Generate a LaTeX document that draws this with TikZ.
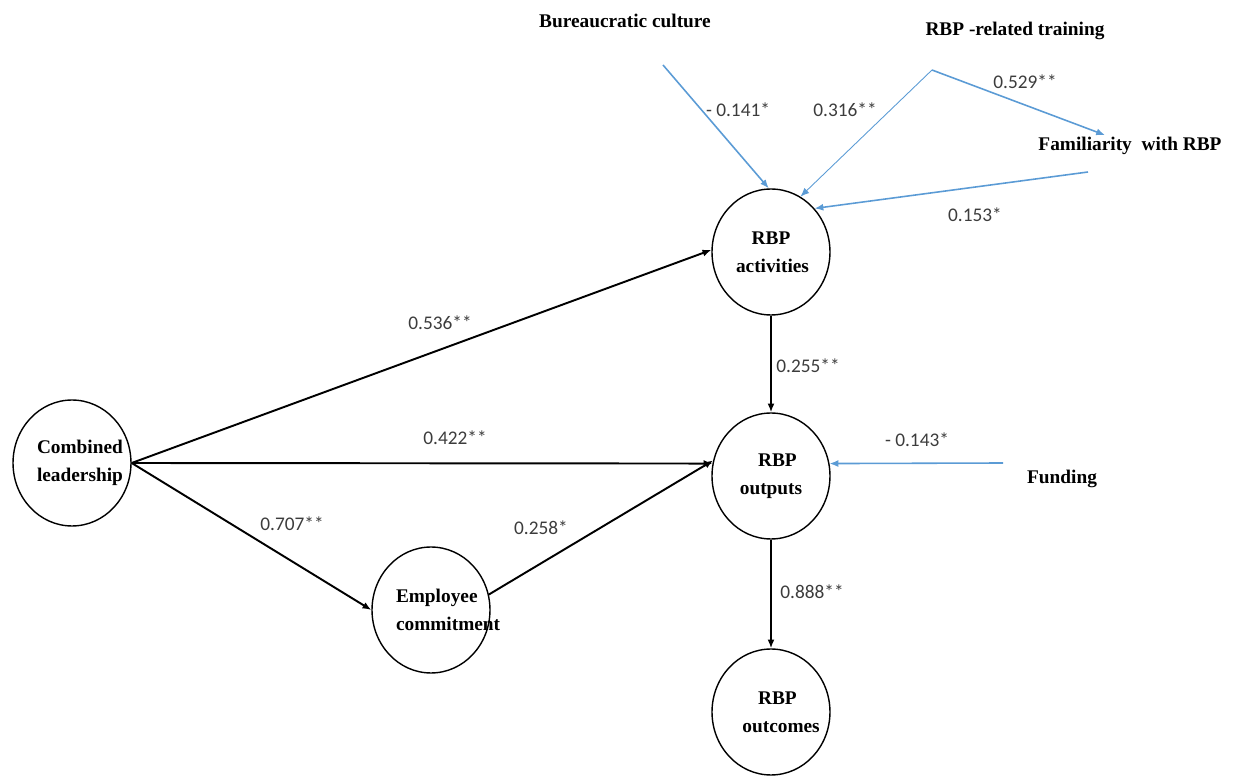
\documentclass[tikz,border=0pt]{standalone}
\usepackage{fontspec}
\usetikzlibrary{shapes.geometric,arrows.meta}
\newfontfamily\vartnr{Liberation Serif}
\newfontfamily\coefcal{Carlito}
\definecolor{pathblue}{RGB}{91,155,213}
\definecolor{coefgrey}{RGB}{60,60,60}

\begin{document}
\begin{tikzpicture}[x=0.02cm, y=-0.02cm,
		latent/.style={ellipse, draw=black, line width=0.8pt, minimum width=2.36cm,
			minimum height=2.52cm, inner sep=0pt, text width=1.4cm, align=center,
			font=\vartnr\bfseries\fontsize{11}{16}\selectfont},
		factor/.style={inner sep=1pt, font=\vartnr\bfseries\fontsize{11}{13}\selectfont},
		coef/.style={inner sep=0pt, text=coefgrey, font=\coefcal\fontsize{11}{13}\selectfont},
		path/.style={line width=1.1pt, -{Latex[length=5pt,width=4pt]}},
		bluepath/.style={draw=pathblue, line width=0.9pt, -{Latex[length=5pt,width=4pt]}}]
				\useasboundingbox (0,0) rectangle (1242,776);
				\node[latent] (comb) at(72,463){Combined\\leadership};
				\node[latent] (emp) at(431,610){Employee\\commitment};
				\node[latent] (act) at(771,252){RBP\\activities};
				\node[latent] (outs) at(771,476){\ \ RBP\\outputs};
				\node[latent] (outc) at(771,712){\ \ RBP\\\mbox{\ outcomes}};
				\node[factor] (bur) at(625,21){Bureaucratic culture};
				\node[factor] (train) at(1015,31){RBP -related training};
				\node[factor] (fam) at(1130,146){Familiarity\ \ with RBP};
				\node[factor] (fund) at(1062,479){Funding};
				\coordinate (burout) at(663,65);
				\coordinate (trainout) at(932,70);
				\coordinate (famout) at(1088,172);
				\coordinate (fundout) at(1003,463);
				\draw[path] (comb.east) -- (act.178);
				\draw[path] (comb.east) -- (outs.168);
				\draw[path] (comb.east) -- (emp.west);
				\draw[path] (emp.15) -- (outs.165);
				\draw[path] (act.south) -- (outs.north);
				\draw[path] (outs.south) -- (outc.north);
				\draw[bluepath] (burout) -- (act.92);
				\draw[bluepath, line width=0.5pt] (trainout) -- (act.62);
				\draw[bluepath] (trainout) -- ([xshift=-0.5cm]fam.north);
				\draw[bluepath] (famout) -- (act.45);
				\draw[bluepath] (fundout) -- (outs.12);
				\node[coef] (c1) at(738,110){- 0.141*};
				\node[coef] (c2) at(845,110){0.316**};
				\node[coef] (c3) at(1025,82){0.529**};
				\node[coef] (c4) at(975,215){0.153*};
				\node[coef] (c5) at(440,323){0.536**};
				\node[coef] (c6) at(455,438){0.422**};
				\node[coef] (c7) at(292,524){0.707**};
				\node[coef] (c8) at(541,528){0.258*};
				\node[coef] (c9) at(808,366){0.255**};
				\node[coef] (c10) at(812,592){0.888**};
				\node[coef] (c11) at(917,440){- 0.143*};
			\end{tikzpicture}
\end{document}
